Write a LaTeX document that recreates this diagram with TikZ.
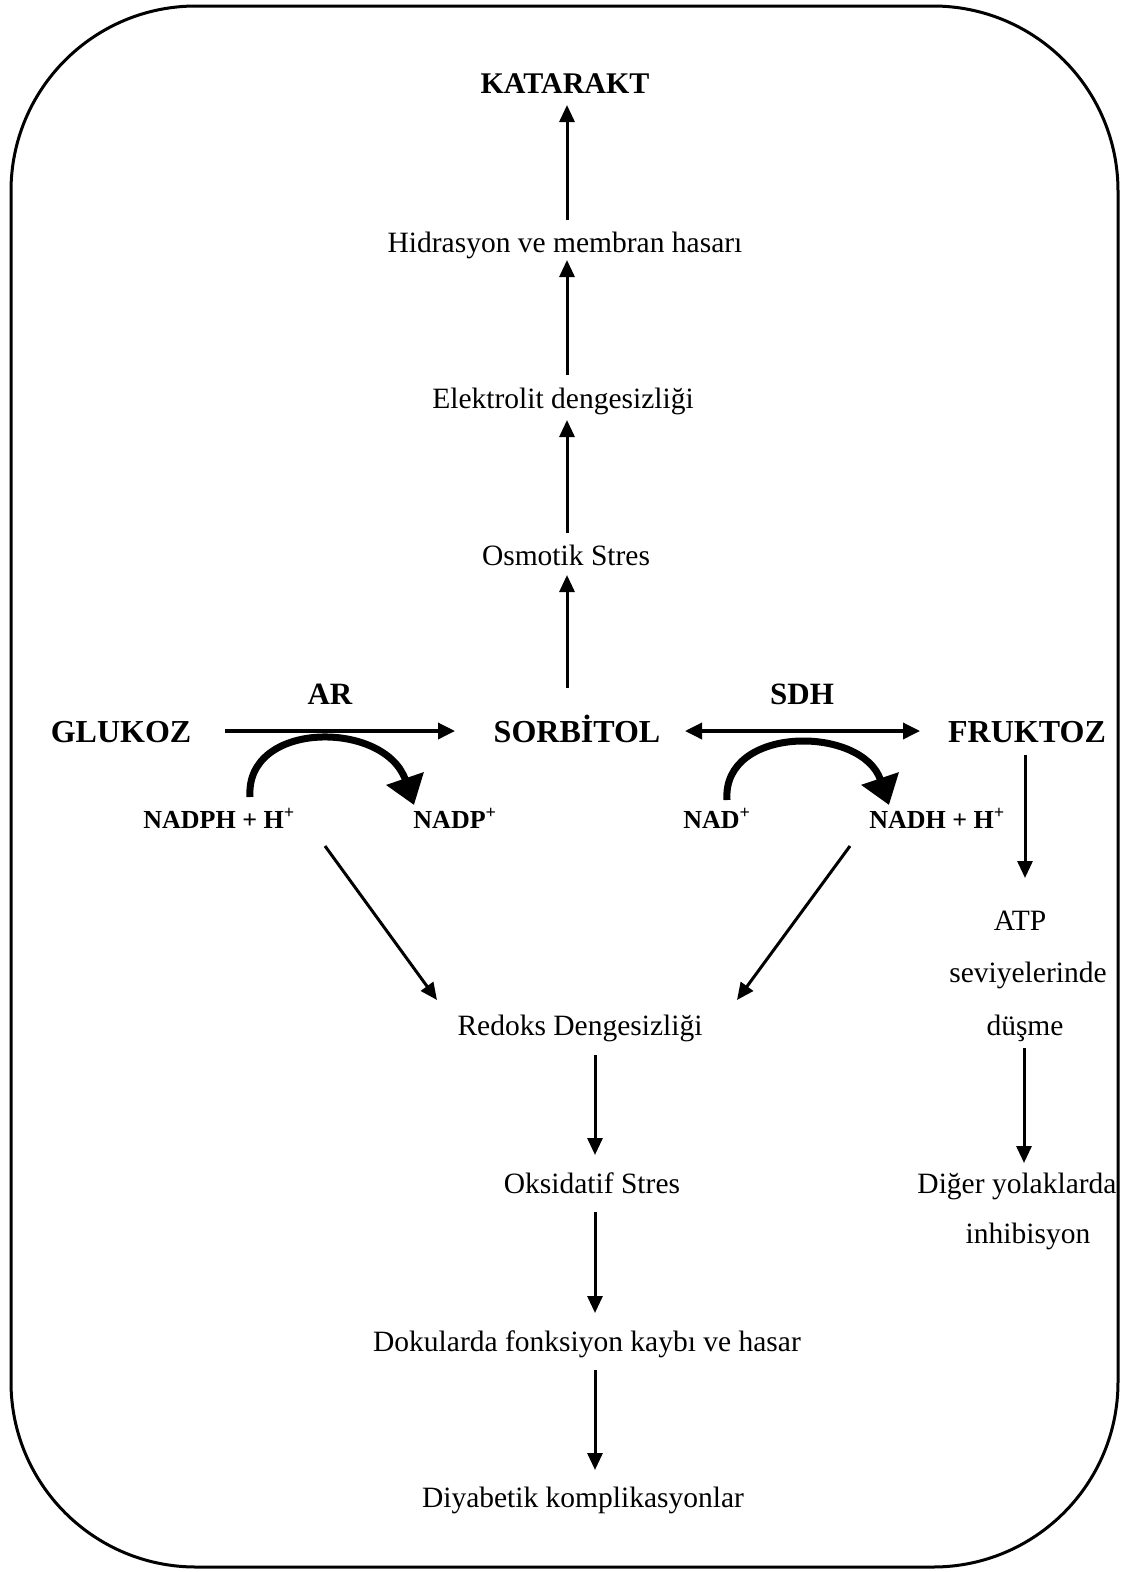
\documentclass[tikz,border=0pt]{standalone}
\usepackage{fontspec}
\setmainfont{Liberation Serif}
\usetikzlibrary{arrows.meta,calc}
\tikzset{
  txt/.style={font=\fontsize{29.5}{34}\selectfont, inner sep=0pt, anchor=base},
  bigb/.style={font=\fontsize{32}{38}\selectfont\bfseries, inner sep=0pt, anchor=base},
  katb/.style={font=\fontsize{30}{36}\selectfont\bfseries, inner sep=0pt, anchor=base},
  enzb/.style={font=\fontsize{31}{36}\selectfont\bfseries, inner sep=0pt, anchor=base},
  cofb/.style={font=\fontsize{26}{30}\selectfont\bfseries, inner sep=0pt, anchor=base},
  arr/.style={line width=3pt, -{Triangle[length=17pt,width=15pt]}},
  darr/.style={line width=3.5pt, {Triangle[length=17pt,width=16pt]}-{Triangle[length=17pt,width=16pt]}},
  harr/.style={line width=3.5pt, -{Triangle[length=17pt,width=16pt]}},
  curv/.style={line width=7pt, -{Triangle[length=28pt,width=38pt]}},
  frame/.style={line width=3pt, rounded corners=185pt}
}
\begin{document}
\begin{tikzpicture}[x=1pt,y=-1pt]
\useasboundingbox (0,0) rectangle (1130,1572);
\draw[frame] (11,6) rectangle (1118,1567);

\node[katb] (kat) at (565,93) {KATARAKT};
\node[txt] (hid) at (565,252) {Hidrasyon ve membran hasarı};
\node[txt] (elek) at (563,408) {Elektrolit dengesizliği};
\node[txt] (osm) at (566,565) {Osmotik Stres};
\node[bigb] (glu) at (121,742) {GLUKOZ};
\node[bigb] (sorb) at (577,742) {SORBİTOL};
\node[bigb] (fruk) at (1027,742) {FRUKTOZ};
\node[enzb] (ar) at (330,704) {AR};
\node[enzb] (sdh) at (802,704) {SDH};
\node[cofb] (nadph) at (219,828) {NADPH + H\textsuperscript{+}};
\node[cofb] (nadp) at (455,828) {NADP\textsuperscript{+}};
\node[cofb] (nad) at (717,828) {NAD\textsuperscript{+}};
\node[cofb] (nadh) at (937,828) {NADH + H\textsuperscript{+}};
\node[txt] (red) at (580,1035) {Redoks Dengesizliği};
\node[txt] (oks) at (592,1193) {Oksidatif Stres};
\node[txt] (dok) at (587,1351) {Dokularda fonksiyon kaybı ve hasar};
\node[txt] (diy) at (583,1507) {Diyabetik komplikasyonlar};
\node[txt] (atp) at (1020,930) {ATP};
\node[txt] (sev) at (1028,982) {seviyelerinde};
\node[txt] (dus) at (1025,1035) {düşme};
\node[txt] (dig) at (1017,1193) {Diğer yolaklarda};
\node[txt] (inh) at (1028,1243) {inhibisyon};

% upward chain
\draw[arr] ($(sorb.base)+(-10,-54)$) -- ($(osm.base)+(1,10)$);
\draw[arr] ($(osm.base)+(1,-32)$) -- ($(elek.base)+(4,12)$);
\draw[arr] ($(elek.base)+(4,-33)$) -- ($(hid.base)+(2,8)$);
\draw[arr] ($(hid.base)+(2,-32)$) -- ($(kat.base)+(2,12)$);

% horizontal reactions
\draw[harr] ($(glu.base)+(104,-11)$) -- ($(sorb.base)+(-122,-11)$);
\draw[darr] ($(sorb.base)+(108,-11)$) -- ($(fruk.base)+(-107,-11)$);

% cofactor curves
\draw[curv] ($(nadph.base)+(31,-31)$) .. controls +(-5,-77) and +(-29,-85) .. ($(nadp.base)+(-41,-23)$);
\draw[curv] ($(nad.base)+(10,-28)$) .. controls +(-5,-75) and +(-27,-80) .. ($(nadh.base)+(-48,-23)$);

% fructose branch
\draw[arr] ($(fruk.base)+(-2,13)$) -- ($(atp.base)+(5,-52)$);
\draw[arr] ($(dus.base)+(-1,13)$) -- ($(dig.base)+(7,-30)$);

% redox branch
\draw[arr] ($(nadph.base)+(106,18)$) -- ($(red.base)+(-143,-35)$);
\draw[arr] ($(nadh.base)+(-87,18)$) -- ($(red.base)+(157,-35)$);
\draw[arr] ($(red.base)+(15,20)$) -- ($(oks.base)+(3,-38)$);
\draw[arr] ($(oks.base)+(3,19)$) -- ($(dok.base)+(8,-38)$);
\draw[arr] ($(dok.base)+(8,19)$) -- ($(diy.base)+(12,-37)$);
\end{tikzpicture}
\end{document}
